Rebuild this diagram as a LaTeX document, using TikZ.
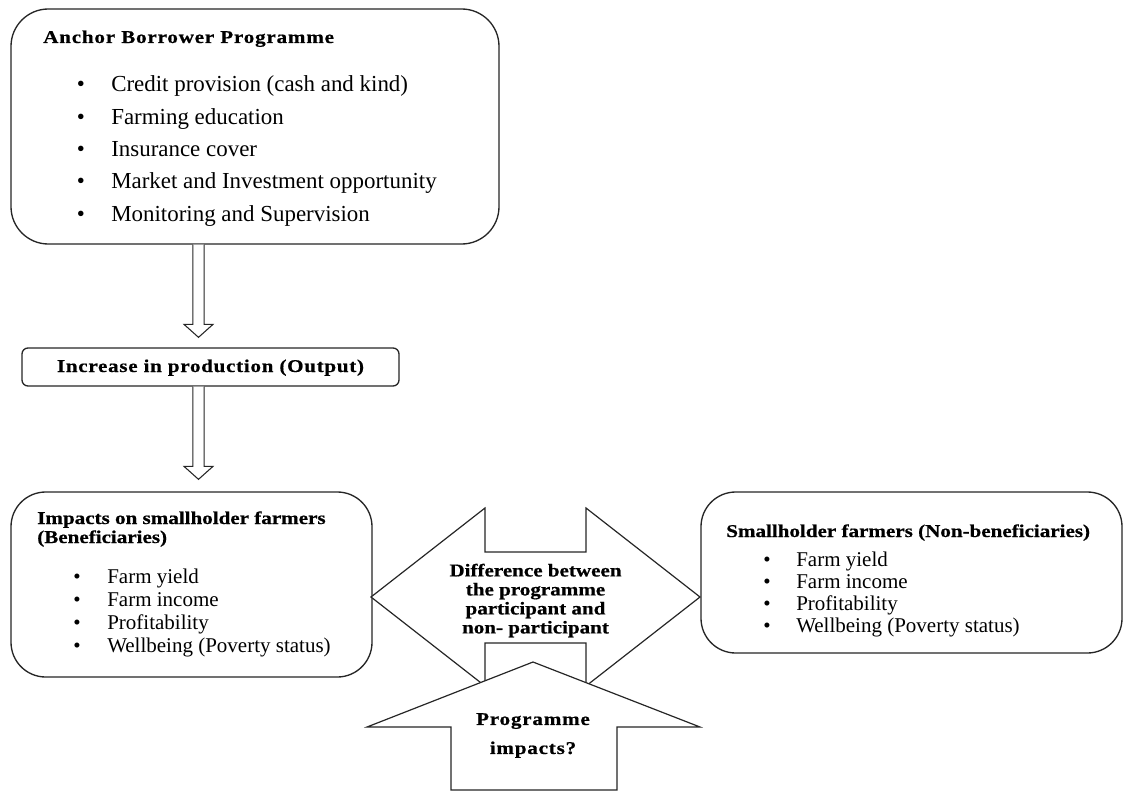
\documentclass[tikz,border=0pt]{standalone}
\usepackage{fontspec}
\setmainfont{Liberation Serif}
\usetikzlibrary{calc}
\newcommand\bsp[1]{\fontsize{13.5}{16}\selectfont\bfseries\addfontfeature{FakeStretch=1.17,FakeBold=0.6,LetterSpace=#1}}
\begin{document}
\begin{tikzpicture}[x=0.75pt,y=-0.75pt,line join=miter,
  box/.style={draw=black!85,line width=1pt,fill=white,inner sep=0pt},
  hollow/.style={draw=black!85,line width=0.8pt,fill=white},
  shapeline/.style={draw=black!85,line width=0.9pt,fill=white},
  toplist/.style={anchor=base west,inner sep=0pt,font=\fontsize{17.2}{20}\selectfont},
  botlist/.style={anchor=base west,inner sep=0pt,font=\fontsize{15.75}{18}\selectfont},
  bul/.style={anchor=base,inner sep=0pt}]
\useasboundingbox (0,0) rectangle (1124,792);

% boxes
\node[box,rounded corners=28pt,minimum width=366pt,minimum height=176.25pt] (top) at (255,126.5) {};
\node[box,rounded corners=4.5pt,minimum width=282.75pt,minimum height=28.5pt] (inc) at (210.5,367) {};
\node[box,rounded corners=26pt,minimum width=270.75pt,minimum height=138.75pt] (lb) at (191.5,584.5) {};
\node[box,rounded corners=26pt,minimum width=315.75pt,minimum height=120.75pt] (rb) at (911.5,572.5) {};

% hollow arrows
\coordinate (ax) at (198.5,0);
\draw[hollow] let \p1=(top.south -| ax), \p2=($(inc.north -| ax)+(0,7.5pt)$) in
  (\x1-4.2pt,\y1) -- (\x1-4.2pt,\y2+9.75pt) -- (\x1-10.9pt,\y2+9.75pt) -- (\x2,\y2)
  -- (\x1+10.9pt,\y2+9.75pt) -- (\x1+4.2pt,\y2+9.75pt) -- (\x1+4.2pt,\y1);
\draw[hollow] let \p1=(inc.south -| ax), \p2=($(lb.north -| ax)+(0,9pt)$) in
  (\x1-4.2pt,\y1) -- (\x1-4.2pt,\y2+9.75pt) -- (\x1-10.9pt,\y2+9.75pt) -- (\x2,\y2)
  -- (\x1+10.9pt,\y2+9.75pt) -- (\x1+4.2pt,\y2+9.75pt) -- (\x1+4.2pt,\y1);

% double arrow
\draw[shapeline] (371,597) -- (485,508) -- (485,552) -- (586,552) -- (586,508) -- (700,597)
  -- (586,686) -- (586,643) -- (485,643) -- (485,686) -- cycle;
% up arrow
\draw[shapeline] (533,662) -- (700,727) -- (617,727) -- (617,790) -- (451,790) -- (451,727)
  -- (367,727) -- cycle;

% top box text
\node[anchor=base west,inner sep=0pt,font=\bsp{4.5}] (ttl) at (43,43) {Anchor Borrower Programme};
\foreach \t [count=\i] in {Credit provision (cash and kind),Farming education,Insurance cover,Market and Investment opportunity,Monitoring and Supervision}{
  \node[bul,font=\fontsize{17.2}{20}\selectfont] (tb\i) at (81,{91.7+32.4*(\i-1)}) {\textbullet};
  \node[toplist] (tt\i) at (111,{91.7+32.4*(\i-1)}) {\t};
}

% increase text
\node[anchor=base,inner sep=0pt,font=\bsp{4}] (inct) at (210.5,372) {Increase in production (Output)};

% left box text
\node[anchor=base west,inner sep=0pt,font=\bsp{0}] (lt1) at (37,524) {Impacts on smallholder farmers};
\node[anchor=base west,inner sep=0pt,font=\bsp{0}] (lt2) at (37,543) {(Beneficiaries)};
\foreach \t [count=\i] in {Farm yield,Farm income,Profitability,Wellbeing (Poverty status)}{
  \node[bul,font=\fontsize{15.75}{18}\selectfont] (lbb\i) at (77,{583+23*(\i-1)}) {\textbullet};
  \node[botlist] (lbt\i) at (107,{583+23*(\i-1)}) {\t};
}

% right box text
\node[anchor=base west,inner sep=0pt,font=\bsp{0}] (rt1) at (726,537) {Smallholder farmers (Non-beneficiaries)};
\foreach \t [count=\i] in {Farm yield,Farm income,Profitability,Wellbeing (Poverty status)}{
  \node[bul,font=\fontsize{15.75}{18}\selectfont] (rbb\i) at (767,{566+22*(\i-1)}) {\textbullet};
  \node[botlist] (rbt\i) at (796,{566+22*(\i-1)}) {\t};
}

% arrow texts
\node[align=center,inner sep=0pt,font=\bsp{0}\fontsize{13.5}{14.25}\selectfont] (diff) at (535.5,600.5)
  {Difference between\\the programme\\participant and\\non- participant};
\node[align=center,inner sep=0pt,font=\bsp{4.5}\fontsize{13.5}{21.75}\selectfont] (prog) at (533,735.5)
  {Programme\\impacts?};
\end{tikzpicture}
\end{document}
